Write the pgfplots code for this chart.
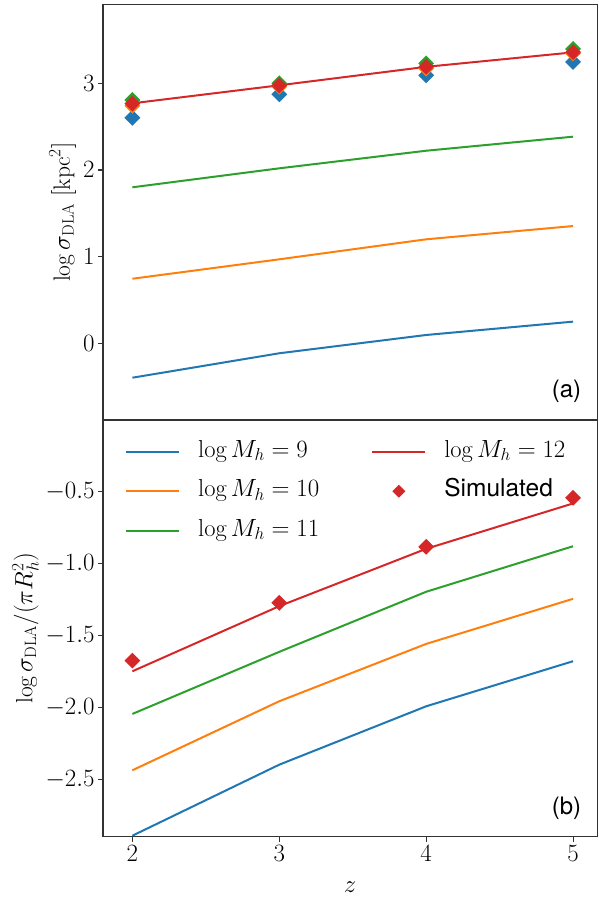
\documentclass[border=0pt]{standalone}
\usepackage{fontspec}
\usepackage{pgfplots}
\pgfplotsset{compat=1.18}
\usetikzlibrary{calc}
\newfontfamily\helv{TeX Gyre Heros}
\definecolor{tabblue}{HTML}{1F77B4}
\definecolor{taborange}{HTML}{FF7F0E}
\definecolor{tabgreen}{HTML}{2CA02C}
\definecolor{tabred}{HTML}{D62728}
\newcommand{\fs}{\fontsize{23.5}{28}\selectfont}
\newcommand{\fl}{\fontsize{24.5}{29}\selectfont}
\pgfplotsset{
  lineimg/.style={legend image code/.code={\draw[##1] (0pt,0pt) -- (53pt,0pt);}},
  markimg/.style={legend image code/.code={\draw[##1] plot[only marks] coordinates {(26.5pt,0pt)};}},
  panel/.style={
    scale only axis,
    width=494.3pt,
    xmin=1.8, xmax=5.165,
    axis line style={black!80, line width=1.4pt},
    tick style={black!80, line width=1.1pt},
    tick align=outside,
    major tick length=5pt,
    tick pos=left,
    tick label style={font=\fs},
    label style={font=\fs},
    every axis plot/.append style={line width=2pt},
  },
  dmark/.style={only marks, mark=square*, mark size=4.6pt, mark options={rotate=45, solid}},
}
\begin{document}
\begin{tikzpicture}
\begin{axis}[panel, name=top, height=415.3pt,
  ymin=-0.885, ymax=3.907, ytick={0,1,2,3}, xtick=\empty,
  ylabel={$\log\sigma_{\mathrm{DLA}}\;[\mathrm{kpc}^2]$}]
\addplot[tabblue] coordinates {(2,-0.397) (3,-0.115) (4,0.096) (5,0.25)};
\addplot[taborange] coordinates {(2,0.745) (3,0.969) (4,1.2) (5,1.353)};
\addplot[tabgreen] coordinates {(2,1.80) (3,2.019) (4,2.222) (5,2.384)};
\addplot[tabred] coordinates {(2,2.769) (3,2.977) (4,3.19) (5,3.357)};
\addplot[tabblue, dmark] coordinates {(2,2.603) (3,2.873) (4,3.092) (5,3.246)};
\addplot[taborange, dmark] coordinates {(2,2.74) (3,2.96) (4,3.17) (5,3.345)};
\addplot[tabgreen, dmark] coordinates {(2,2.807) (3,3.0) (4,3.23) (5,3.396)};
\addplot[tabred, dmark] coordinates {(2,2.765) (3,2.975) (4,3.19) (5,3.36)};
\node[anchor=south east, inner sep=0pt, font=\helv\fontsize{24}{28}\selectfont] at (rel axis cs:1,0) [xshift=-16pt, yshift=17pt] {(a)};
\end{axis}
\begin{axis}[panel, at={(top.south west)}, anchor=north west, height=416.7pt,
  ymin=-2.894, ymax=-0.002, ytick={-2.5,-2,-1.5,-1,-0.5},
  yticklabel style={/pgf/number format/.cd, fixed, fixed zerofill, precision=1},
  xtick={2,3,4,5},
  xlabel={$z$},
  xlabel style={yshift=-14pt},
  ylabel={$\log\sigma_{\mathrm{DLA}}/(\pi R_h^2)$},
  legend columns=2,
  legend cell align=left,
  legend style={at={(0,1)}, anchor=north west, xshift=22pt, yshift=-20pt,
    draw=none, fill=none, font=\fl, inner sep=0pt,
    nodes={inner sep=0pt, text height=17pt, text depth=6pt},
    row sep=16.5pt,
    /tikz/every odd column/.append style={column sep=18pt},
    /tikz/every even column/.append style={column sep=52pt}},
  ]
\addplot[tabblue, forget plot] coordinates {(2,-2.887) (3,-2.394) (4,-1.989) (5,-1.676)};
\addplot[taborange, forget plot] coordinates {(2,-2.433) (3,-1.954) (4,-1.556) (5,-1.243)};
\addplot[tabgreen, forget plot] coordinates {(2,-2.042) (3,-1.611) (4,-1.194) (5,-0.878)};
\addplot[tabred, forget plot] coordinates {(2,-1.746) (3,-1.294) (4,-0.896) (5,-0.581)};
\addplot[tabred, dmark, forget plot] coordinates {(2,-1.672) (3,-1.271) (4,-0.882) (5,-0.542)};
\addlegendimage{tabblue, line width=2pt, lineimg}
\addlegendentry{$\log M_h=9$}
\addlegendimage{tabred, line width=2pt, lineimg}
\addlegendentry{$\log M_h=12$}
\addlegendimage{taborange, line width=2pt, lineimg}
\addlegendentry{$\log M_h=10$}
\addlegendimage{tabred, mark=square*, mark size=3.6pt, mark options={rotate=45}, markimg}
\addlegendentry{{\helv Simulated}}
\addlegendimage{tabgreen, line width=2pt, lineimg}
\addlegendentry{$\log M_h=11$}
\node[anchor=south east, inner sep=0pt, font=\helv\fontsize{24}{28}\selectfont] at (rel axis cs:1,0) [xshift=-16pt, yshift=17pt] {(b)};
\end{axis}
\pgfresetboundingbox
\path[use as bounding box] ($(top.north west)+(-103pt,4.7pt)$) rectangle ($(top.north west)+(495pt,-895.3pt)$);
\end{tikzpicture}
\end{document}
